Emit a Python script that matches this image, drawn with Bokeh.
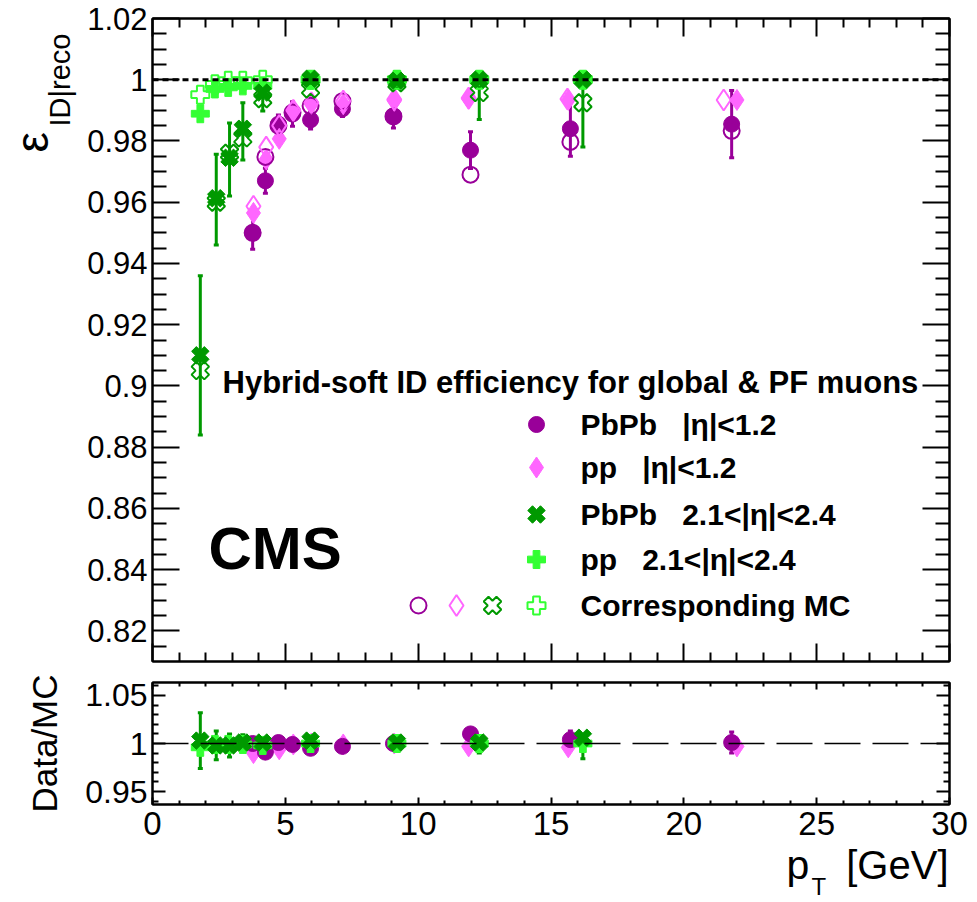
import math
from bokeh.plotting import figure
from bokeh.layouts import column, row
from bokeh.models import (Range1d, LinearAxis, FixedTicker, Span, Label, Whisker,
                          TeeHead, ColumnDataSource, CustomJSTickFormatter)
from bokeh.embed import file_html
from bokeh.resources import INLINE

# ---------------- data ----------------
# PbPb |eta|<1.2
pt_pbpb_mid = [3.77, 4.25, 4.74, 5.27, 5.95, 7.15, 9.07, 11.97, 15.73, 21.80]
eff_pbpb_mid = [0.9500, 0.9670, 0.9855, 0.9888, 0.9869, 0.9905, 0.9882, 0.9770, 0.9840, 0.9855]
err_pbpb_mid = [0.0054, 0.0041, 0.0030, 0.0040, 0.0030, 0.0025, 0.0040, 0.0060, 0.0090, 0.0110]
mc_pbpb_mid = [0.9500, 0.9748, 0.9850, 0.9893, 0.9915, 0.9930, 0.9880, 0.9690, 0.9797, 0.9833]

# pp |eta|<1.2
pt_pp_mid = [3.80, 4.28, 4.77, 5.30, 5.98, 7.18, 9.10, 11.90, 15.65, 22.00]
eff_pp_mid = [0.9565, 0.9740, 0.9807, 0.9900, 0.9920, 0.9920, 0.9931, 0.9938, 0.9934, 0.9934]
pt_pp_mid_mc = [3.80, 4.28, 4.77, 5.30, 5.98, 7.18, 9.10, 11.90, 15.62, 21.50]
mc_pp_mid = [0.9587, 0.9780, 0.9850, 0.9900, 0.9925, 0.9930, 0.9935, 0.9940, 0.9937, 0.9934]

# PbPb 2.1<|eta|<2.4
pt_pbpb_fwd = [1.80, 2.40, 2.90, 3.40, 4.15, 5.95, 9.20, 12.30, 16.20]
eff_pbpb_fwd = [0.9100, 0.9613, 0.9745, 0.9840, 0.9958, 1.0003, 0.9997, 1.0000, 1.0000]
errlo_pbpb_fwd = [0.0260, 0.0153, 0.0125, 0.0102, 0.0060, 0.0030, 0.0020, 0.0130, 0.0220]
errhi_pbpb_fwd = [0.0260, 0.0144, 0.0114, 0.0085, 0.0040, 0.0010, 0.0010, 0.0000, 0.0000]
mc_pbpb_fwd = [0.9050, 0.9600, 0.9760, 0.9810, 0.9938, 0.9970, 0.9990, 0.9958, 0.9925]

# pp 2.1<|eta|<2.4
pt_pp_fwd = [1.80, 2.35, 2.85, 3.40, 4.15, 5.95, 9.20, 12.30, 16.20]
eff_pp_fwd = [0.9889, 0.9970, 0.9975, 0.9980, 0.9980, 1.0000, 1.0000, 1.0000, 1.0000]
mc_pp_fwd = [0.9951, 0.9985, 0.9997, 0.9997, 1.0000, 1.0000, 1.0000, 1.0000, 1.0000]

# Data/MC ratios
r_pbpb_mid = [1.000, 0.991, 1.001, 0.999, 0.995, 0.997, 1.000, 1.010, 1.004, 1.001]
r_err_pbpb_mid = [0.006, 0.005, 0.003, 0.003, 0.003, 0.002, 0.003, 0.006, 0.009, 0.011]
r_pp_mid = [0.990, 0.996, 0.994, 0.999, 1.000, 0.999, 1.000, 0.997, 0.996, 0.997]
r_pbpb_fwd = [1.003, 0.998, 0.998, 1.001, 1.001, 1.003, 1.001, 1.001, 1.006]
r_errlo_pbpb_fwd = [0.029, 0.015, 0.012, 0.008, 0.005, 0.003, 0.002, 0.011, 0.022]
r_errhi_pbpb_fwd = [0.029, 0.015, 0.012, 0.008, 0.005, 0.002, 0.001, 0.001, 0.001]
r_pp_fwd = [0.996, 0.999, 0.999, 0.999, 0.998, 1.000, 1.000, 1.000, 1.000]

# axes / ticks
x_major = [0, 5, 10, 15, 20, 25, 30]
x_minor = [1, 2, 3, 4, 6, 7, 8, 9, 11, 12, 13, 14, 16, 17, 18, 19, 21, 22, 23, 24, 26, 27, 28, 29]
y1_major = [0.82, 0.84, 0.86, 0.88, 0.9, 0.92, 0.94, 0.96, 0.98, 1.0, 1.02]
y1_labels = ["0.82", "0.84", "0.86", "0.88", "0.9", "0.92", "0.94", "0.96", "0.98", "1", "1.02"]
y1_minor = [0.815, 0.825, 0.83, 0.835, 0.845, 0.85, 0.855, 0.865, 0.87, 0.875, 0.885, 0.89,
            0.895, 0.905, 0.91, 0.915, 0.925, 0.93, 0.935, 0.945, 0.95, 0.955, 0.965, 0.97,
            0.975, 0.985, 0.99, 0.995, 1.005, 1.01, 1.015]
y2_major = [0.95, 1.0, 1.05]
y2_labels = ["0.95", "1", "1.05"]
y2_minor = [0.94, 0.96, 0.97, 0.98, 0.99, 1.01, 1.02, 1.03, 1.04, 1.06]

legend_header = "Hybrid-soft ID efficiency for global & PF muons"
NB = "\u00a0"
legend_labels = ["PbPb" + NB * 3 + "|\u03b7|<1.2",
                 "pp" + NB * 3 + "|\u03b7|<1.2",
                 "PbPb" + NB * 3 + "2.1<|\u03b7|<2.4",
                 "pp" + NB * 3 + "2.1<|\u03b7|<2.4",
                 "Corresponding MC"]
y_title_main = "\u03b5"
y_title_sub = "ID|reco"
ratio_title = "Data/MC"
x_title_main = "p"
x_title_sub = "T"
x_title_unit = "[GeV]"

# ---------------- styling / layout ----------------
FONT = "Liberation Sans"
C_PBPB_MID = "#990099"
C_PP_MID = "#ff66ff"
C_PBPB_FWD = "#009900"
C_PP_FWD = "#33ff33"

PAGE_W, PAGE_H = 977, 902
SIDE_W = 80                 # left strip holding the rotated y title of the top panel
H1, H2 = 672, 178
S3_TOP = 802                # the transparent x-title strip overlaps the ratio's label area
H3 = PAGE_H - S3_TOP
FL, FR = 152, 949           # frame edges (page px)
T1, B1 = 18, 661            # top panel frame (page px)
T2, B2 = 682, 804           # ratio frame (page px)
X0, X1 = 0.0, 30.0
Y1_LO, Y1_HI = 0.81, 1.02
Y2_LO, Y2_HI = 0.9365, 1.0635


def px_x(px):
    return X0 + (px - FL) * (X1 - X0) / (FR - FL)


def px_y1(py):
    return Y1_HI - (py - T1) * (Y1_HI - Y1_LO) / (B1 - T1)


def style_axis(ax, major_in, minor_in, labels=None, font_px=31, standoff=6):
    ax.axis_line_width = 2
    ax.axis_line_color = "black"
    ax.major_tick_in = major_in
    ax.major_tick_out = 0
    ax.minor_tick_in = minor_in
    ax.minor_tick_out = 0
    ax.major_tick_line_width = 2
    ax.minor_tick_line_width = 2
    ax.major_tick_line_color = "black"
    ax.minor_tick_line_color = "black"
    if labels is None:
        ax.formatter = CustomJSTickFormatter(code="return ''")
        ax.major_label_standoff = 0
        ax.major_label_text_font_size = "10px"
    else:
        if labels != "default":
            ax.major_label_overrides = labels
        ax.major_label_text_font = FONT
        ax.major_label_text_font_size = f"{font_px}px"
        ax.major_label_text_color = "black"
        ax.major_label_standoff = standoff


def label(p, x, y, text, size, bold=False, align="left", baseline="middle", angle=0.0):
    p.add_layout(Label(x=x, y=y, text=text, text_font=FONT, text_font_size=f"{size}px",
                       text_font_style="bold" if bold else "normal", text_align=align,
                       text_baseline=baseline, angle=angle, text_color="black"))


def errbars(p, xs, ys, lo, hi, color):
    src = ColumnDataSource(dict(x=xs, lo=[y - e for y, e in zip(ys, lo)],
                                hi=[y + e for y, e in zip(ys, hi)]))
    p.add_layout(Whisker(source=src, base="x", lower="lo", upper="hi", dimension="height",
                         line_color=color, line_width=3,
                         lower_head=TeeHead(size=5, line_color=color, line_width=3),
                         upper_head=TeeHead(size=5, line_color=color, line_width=3)))


def strip(width, height, left, right, top, bottom, x_lo, x_hi, y_lo, y_hi, fill="white"):
    """Blank figure used only to hold free text; its frame maps page pixels."""
    f = figure(width=width, height=height, x_range=Range1d(x_lo, x_hi),
               y_range=Range1d(y_lo, y_hi), x_axis_type=None, y_axis_type=None,
               output_backend="svg", toolbar_location=None,
               min_border_left=left, min_border_right=right,
               min_border_top=top, min_border_bottom=bottom,
               outline_line_color=None)
    f.background_fill_color = fill
    f.border_fill_color = fill
    return f


xr = Range1d(X0, X1)

# ================= top panel =================
p1 = figure(width=PAGE_W - SIDE_W, height=H1, x_range=xr, y_range=Range1d(Y1_LO, Y1_HI),
            output_backend="svg", toolbar_location=None,
            min_border_left=FL - SIDE_W, min_border_right=PAGE_W - FR,
            min_border_top=T1, min_border_bottom=H1 - B1)
p1.xgrid.visible = False
p1.ygrid.visible = False
p1.outline_line_color = "black"
p1.outline_line_width = 2
p1.background_fill_color = "white"
p1.border_fill_color = "white"

xt = FixedTicker(ticks=x_major, minor_ticks=x_minor)
y1t = FixedTicker(ticks=y1_major, minor_ticks=y1_minor)
p1.below[0].ticker = xt
style_axis(p1.below[0], 18, 9)
p1.left[0].ticker = y1t
style_axis(p1.left[0], 27, 14, labels=dict(zip(y1_major, y1_labels)), font_px=31, standoff=5)
ax_r = LinearAxis(ticker=y1t)
style_axis(ax_r, 27, 14)
p1.add_layout(ax_r, "right")
ax_t = LinearAxis(ticker=xt)
style_axis(ax_t, 18, 9)
p1.add_layout(ax_t, "above")

p1.add_layout(Span(location=1.0, dimension="width", line_color="black",
                   line_width=3, line_dash="6 4"))

# error bars
errbars(p1, pt_pbpb_mid, eff_pbpb_mid, err_pbpb_mid, err_pbpb_mid, C_PBPB_MID)
errbars(p1, pt_pbpb_fwd, eff_pbpb_fwd, errlo_pbpb_fwd, errhi_pbpb_fwd, C_PBPB_FWD)

# markers
p1.scatter(pt_pbpb_mid, eff_pbpb_mid, marker="circle", size=16, color=C_PBPB_MID)
p1.scatter(pt_pp_mid, eff_pp_mid, marker="diamond", size=21, color=C_PP_MID)
p1.scatter(pt_pbpb_mid, mc_pbpb_mid, marker="circle", size=16, line_color=C_PBPB_MID,
           fill_alpha=0, line_width=2)
p1.scatter(pt_pp_mid_mc, mc_pp_mid, marker="diamond", size=21, line_color=C_PP_MID,
           fill_alpha=0, line_width=2)
p1.scatter(pt_pp_fwd, eff_pp_fwd, marker="plus", size=18, color=C_PP_FWD)
p1.scatter(pt_pbpb_fwd, mc_pbpb_fwd, marker="plus", size=18, angle=math.pi / 4,
           line_color=C_PBPB_FWD, fill_alpha=0, line_width=2)
p1.scatter(pt_pp_fwd, mc_pp_fwd, marker="plus", size=18, line_color=C_PP_FWD,
           fill_alpha=0, line_width=2)
p1.scatter(pt_pbpb_fwd, eff_pbpb_fwd, marker="plus", size=18, angle=math.pi / 4,
           color=C_PBPB_FWD)

# legend (drawn by hand, ROOT style)
label(p1, px_x(222), px_y1(382), legend_header, 31, bold=True)
rows_py = [424, 467, 514, 559, 605]
p1.scatter([px_x(536)], [px_y1(rows_py[0])], marker="circle", size=16, color=C_PBPB_MID)
p1.scatter([px_x(536)], [px_y1(rows_py[1])], marker="diamond", size=21, color=C_PP_MID)
p1.scatter([px_x(536)], [px_y1(rows_py[2])], marker="plus", size=18, angle=math.pi / 4,
           color=C_PBPB_FWD)
p1.scatter([px_x(536)], [px_y1(rows_py[3])], marker="plus", size=18, color=C_PP_FWD)
p1.scatter([px_x(418)], [px_y1(rows_py[4])], marker="circle", size=16,
           line_color=C_PBPB_MID, fill_alpha=0, line_width=2)
p1.scatter([px_x(456)], [px_y1(rows_py[4])], marker="diamond", size=21,
           line_color=C_PP_MID, fill_alpha=0, line_width=2)
p1.scatter([px_x(492)], [px_y1(rows_py[4])], marker="plus", size=18, angle=math.pi / 4,
           line_color=C_PBPB_FWD, fill_alpha=0, line_width=2)
p1.scatter([px_x(536)], [px_y1(rows_py[4])], marker="plus", size=18,
           line_color=C_PP_FWD, fill_alpha=0, line_width=2)
for py, txt in zip(rows_py, legend_labels):
    label(p1, px_x(580), px_y1(py), txt, 30, bold=True)

label(p1, px_x(208), px_y1(548), "CMS", 60, bold=True)

# left strip (same vertical borders as p1, so its frame spans page y 18..661);
# data coordinates: x = page px, y = -page px
sL1 = strip(SIDE_W, H1, 0, 0, T1, H1 - B1, 0, SIDE_W, -B1, -T1)
label(sL1, 31, -152, y_title_main, 46, align="left", baseline="alphabetic", angle=math.pi / 2)
label(sL1, 59, -126, y_title_sub, 29, align="left", baseline="alphabetic", angle=math.pi / 2)

# ================= ratio panel =================
p2 = figure(width=PAGE_W, height=H2, x_range=xr, y_range=Range1d(Y2_LO, Y2_HI),
            output_backend="svg", toolbar_location=None,
            min_border_left=FL, min_border_right=PAGE_W - FR,
            min_border_top=T2 - H1, min_border_bottom=H1 + H2 - B2)
p2.xgrid.visible = False
p2.ygrid.visible = False
p2.outline_line_color = "black"
p2.outline_line_width = 2
p2.background_fill_color = "white"
p2.border_fill_color = "white"

y2t = FixedTicker(ticks=y2_major, minor_ticks=y2_minor)
p2.below[0].ticker = xt
style_axis(p2.below[0], 7, 4, labels="default", font_px=33, standoff=7)
p2.left[0].ticker = y2t
style_axis(p2.left[0], 13, 6, labels=dict(zip(y2_major, y2_labels)), font_px=32, standoff=5)
p2.left[0].axis_label = ratio_title
p2.left[0].axis_label_text_font = FONT
p2.left[0].axis_label_text_font_size = "35px"
p2.left[0].axis_label_text_font_style = "normal"
p2.left[0].axis_label_text_color = "black"
p2.left[0].axis_label_standoff = 18
ax_r2 = LinearAxis(ticker=y2t)
style_axis(ax_r2, 13, 6)
p2.add_layout(ax_r2, "right")
ax_t2 = LinearAxis(ticker=xt)
style_axis(ax_t2, 7, 4)
p2.add_layout(ax_t2, "above")

p2.add_layout(Span(location=1.0, dimension="width", line_color="black",
                   line_width=1.5, line_dash="36 12"))

errbars(p2, pt_pbpb_mid, r_pbpb_mid, r_err_pbpb_mid, r_err_pbpb_mid, C_PBPB_MID)
errbars(p2, pt_pbpb_fwd, r_pbpb_fwd, r_errlo_pbpb_fwd, r_errhi_pbpb_fwd, C_PBPB_FWD)
p2.scatter(pt_pp_mid, r_pp_mid, marker="diamond", size=21, color=C_PP_MID)
p2.scatter(pt_pbpb_mid, r_pbpb_mid, marker="circle", size=16, color=C_PBPB_MID)
p2.scatter(pt_pp_fwd, r_pp_fwd, marker="plus", size=18, color=C_PP_FWD)
p2.scatter(pt_pbpb_fwd, r_pbpb_fwd, marker="plus", size=18, angle=math.pi / 4,
           color=C_PBPB_FWD)

# ================= x title strip (transparent, pulled up over the tick-label band) =================
# frame spans page x 152..949 and page y 802..902; data: x = page px, y = -page px
s3 = strip(PAGE_W, H3, FL, PAGE_W - FR, 0, 0, FL, FR, -PAGE_H, -S3_TOP, fill=None)
s3.margin = (S3_TOP - (H1 + H2), 0, 0, 0)
label(s3, 786, -864, x_title_main, 41, align="left", baseline="alphabetic")
label(s3, 811, -886, x_title_sub, 24, align="left", baseline="alphabetic")
label(s3, 948, -864, x_title_unit, 40, align="right", baseline="alphabetic")

layout = column(row(sL1, p1, spacing=0), p2, s3, spacing=0)
open("out.html", "w").write(file_html(layout, INLINE))
